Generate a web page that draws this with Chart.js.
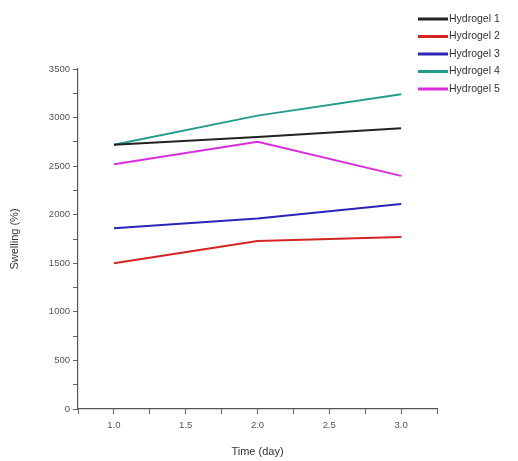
<!DOCTYPE html>
<html lang="en">
<head>
<meta charset="UTF-8">
<title>Swelling of hydrogels</title>
<script src="https://cdn.jsdelivr.net/npm/chart.js"></script>
<style>
    html, body { margin: 0; padding: 0; background: #fff; }
    .wrap { width: 518px; height: 461px; position: relative; }
</style>
</head>
<body>
<div class="wrap"><canvas id="swell_chart"></canvas></div>
<script>
// data
const days = [1.0, 2.0, 3.0];
const hydrogel1 = [2720, 2800, 2890];
const hydrogel2 = [1500, 1730, 1770];
const hydrogel3 = [1860, 1960, 2110];
const hydrogel4 = [2720, 3020, 3240];
const hydrogel5 = [2520, 2750, 2400];
const seriesNames = ['Hydrogel 1', 'Hydrogel 2', 'Hydrogel 3', 'Hydrogel 4', 'Hydrogel 5'];
const xLabels = [1.0, 1.5, 2.0, 2.5, 3.0];
const yLabels = [0, 500, 1000, 1500, 2000, 2500, 3000, 3500];

const colors = ['#222222', '#d42424', '#2a24b8', '#249c8c', '#dc2ce0'];
const allSeries = [hydrogel1, hydrogel2, hydrogel3, hydrogel4, hydrogel5];

const datasets = allSeries.map((vals, i) => ({
    label: seriesNames[i],
    data: days.map((d, j) => ({ x: d, y: vals[j] })),
    borderColor: colors[i],
    backgroundColor: colors[i],
    borderWidth: 2,
    pointRadius: 0,
    fill: false,
    tension: 0
}));

// legend drawn in the top right corner, outside the plot
const cornerLegend = {
    id: 'cornerLegend',
    afterDraw(chart) {
        const ctx = chart.ctx;
        ctx.save();
        ctx.font = '10.5px "Liberation Sans", Arial, sans-serif';
        ctx.textBaseline = 'middle';
        chart.data.datasets.forEach((ds, i) => {
            const y = 19 + i * 17.5;
            ctx.strokeStyle = ds.borderColor;
            ctx.lineWidth = 3;
            ctx.beginPath();
            ctx.moveTo(418, y);
            ctx.lineTo(448, y);
            ctx.stroke();
            ctx.fillStyle = '#333';
            ctx.fillText(ds.label, 449, y);
        });
        ctx.restore();
    }
};

const tickFont = { family: '"Liberation Sans", Arial, sans-serif', size: 9.5 };
const titleFont = { family: '"Liberation Sans", Arial, sans-serif', size: 11 };

new Chart(document.getElementById('swell_chart'), {
    type: 'line',
    data: { datasets: datasets },
    options: {
        responsive: true,
        maintainAspectRatio: false,
        animation: false,
        layout: { padding: { top: 69, right: 81, left: 0, bottom: 0 } },
        plugins: {
            legend: { display: false },
            tooltip: { enabled: false }
        },
        scales: {
            x: {
                type: 'linear',
                min: 0.75,
                max: 3.25,
                afterFit: s => { s.height = 52; },
                ticks: {
                    stepSize: 0.25,
                    autoSkip: false,
                    maxRotation: 0,
                    color: '#555',
                    font: tickFont,
                    padding: 6,
                    callback: v => xLabels.some(l => Math.abs(l - v) < 1e-6) ? v.toFixed(1) : ''
                },
                grid: {
                    drawOnChartArea: false,
                    tickLength: 5,
                    color: '#666'
                },
                border: { color: '#555', width: 1.2 },
                title: {
                    display: true,
                    text: 'Time (day)',
                    color: '#333',
                    font: titleFont,
                    padding: { top: 4, bottom: 2 }
                }
            },
            y: {
                min: 0,
                max: 3500,
                afterFit: s => { s.width = 78; },
                ticks: {
                    stepSize: 250,
                    autoSkip: false,
                    color: '#555',
                    font: tickFont,
                    padding: 3,
                    callback: v => yLabels.includes(v) ? String(v) : ''
                },
                grid: {
                    drawOnChartArea: false,
                    tickLength: 5,
                    color: '#666'
                },
                border: { color: '#555', width: 1.2 },
                title: {
                    display: true,
                    text: 'Swelling (%)',
                    color: '#333',
                    font: titleFont,
                    padding: { top: 8.5, bottom: 4 }
                }
            }
        }
    },
    plugins: [cornerLegend]
});
</script>
</body>
</html>
